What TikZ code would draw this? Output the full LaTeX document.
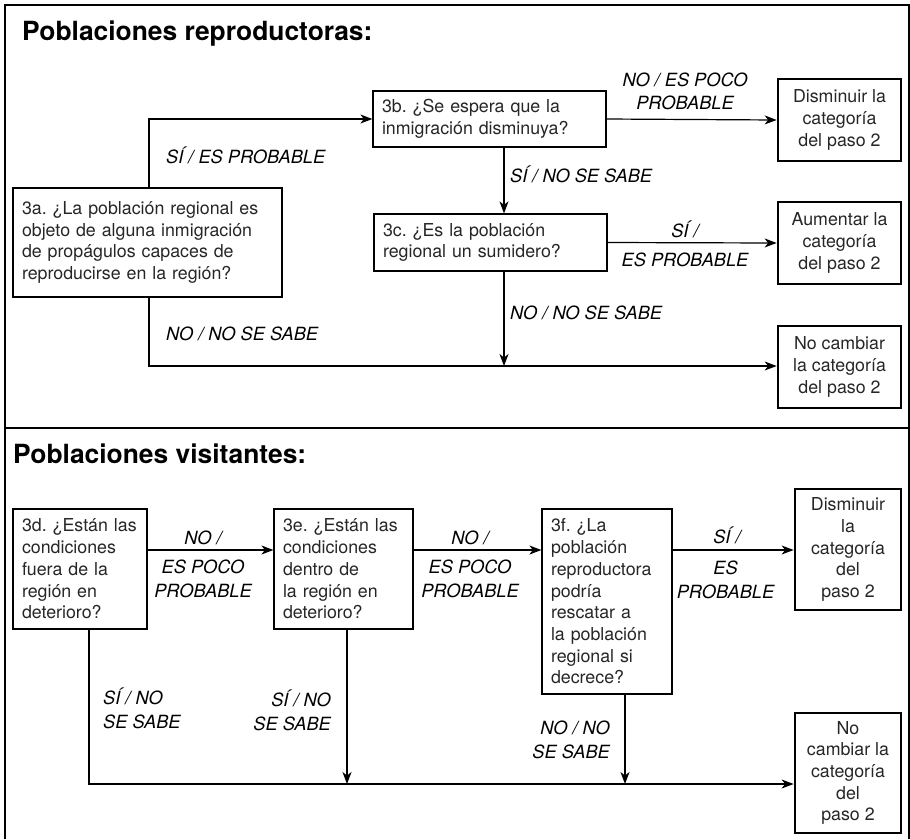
\documentclass[tikz,border=0pt]{standalone}
\usepackage{fontspec}
\setmainfont{TeX Gyre Heros}
\usetikzlibrary{arrows.meta}
\frenchspacing
\tikzset{
  qbox/.style={draw, line width=1.2pt, inner xsep=9pt, inner ysep=0pt, text width=#1, align=left,
    font=\fontsize{17.8}{21.7}\selectfont, text=black!85},
  rbox/.style={draw, line width=2.7pt, inner sep=0pt, align=center,
    font=\fontsize{17.8}{21.7}\selectfont, text=black!85},
  lab/.style={inner sep=0pt, font=\fontsize{18.2}{24}\itshape\selectfont},
  ttl/.style={inner sep=0pt, anchor=base west, font=\fontsize{26.4}{30}\bfseries\selectfont},
  arr/.style={line width=1.2pt, -{Stealth[length=12pt,width=9pt,inset=3.5pt]}},
  frame/.style={line width=2pt}
}
\begin{document}
\begin{tikzpicture}[x=1pt,y=-1pt]
\useasboundingbox (0,0) rectangle (910,839);
% frame
\draw[frame] (5,839) -- (5,5) -- (909,5) -- (909,839);
\draw[line width=1.6pt] (5,428) -- (909,428);
% titles
\node[ttl] (t1) at (22,40) {Poblaciones reproductoras:};
\node[ttl] (t2) at (13,463) {Poblaciones visitantes:};

% ---- top section nodes ----
\node[qbox=251pt, minimum height=109pt] (q3a) at (147.5,242.5)
  {\mbox{3a. ¿La población regional es}\\\mbox{objeto de alguna inmigración}\\\mbox{de propágulos capaces de}\\\mbox{reproducirse en la región?}};
\node[qbox=215pt, minimum height=56pt] (q3b) at (489.5,119)
  {\mbox{3b. ¿Se espera que la}\\\mbox{inmigración disminuya?}};
\node[qbox=215pt, minimum height=57pt] (q3c) at (490.5,242.5)
  {\mbox{3c. ¿Es la población}\\\mbox{regional un sumidero?}};
\node[rbox, minimum width=123pt, minimum height=82pt] (d1) at (839.5,120)
  {Disminuir la\\categoría\\del paso 2};
\node[rbox, minimum width=123pt, minimum height=82pt] (a1) at (839.5,243)
  {Aumentar la\\categoría\\del paso 2};
\node[rbox, minimum width=123pt, minimum height=82pt] (n1) at (839.5,367)
  {No cambiar\\la categoría\\del paso 2};

\coordinate (vb) at (504,0);
\coordinate (va) at (149,0);
\coordinate (hb) at (0,366);

\draw[arr] (q3a.north -| va) |- (q3b.west);
\draw[arr] (q3b.east) -- (d1.west);
\draw[arr] (q3b.south -| vb) -- (q3c.north -| vb);
\draw[arr] (q3c.east) -- (a1.west);
\draw[arr] (q3c.south -| vb) -- (vb |- hb);
\draw[arr] (q3a.south -| va) |- (n1.west |- hb);

\node[lab, anchor=west] (l1) at (166,155) {SÍ / ES PROBABLE};
\node[lab, anchor=west] (l2) at (166,334) {NO / NO SE SABE};
\node[lab, align=center] (l3) at (685,91.5) {NO / ES POCO\\[-1pt]PROBABLE};
\node[lab, anchor=west] (l4) at (510,174) {SÍ / NO SE SABE};
\node[lab] (l5) at (685,229) {SÍ /};
\node[lab] (l6) at (685,260) {ES PROBABLE};
\node[lab, anchor=west] (l7) at (510,313) {NO / NO SE SABE};

% ---- bottom section nodes ----
\node[qbox=116pt, minimum height=120pt] (q3d) at (80,569)
  {\mbox{3d. ¿Están las}\\condiciones\\\mbox{fuera de la}\\\mbox{región en}\\deterioro?};
\node[qbox=121pt, minimum height=120pt] (q3e) at (343.5,569)
  {\mbox{3e. ¿Están las}\\condiciones\\\mbox{dentro de}\\\mbox{la región en}\\deterioro?};
\node[qbox=112pt, minimum height=185pt] (q3f) at (607,601.5)
  {\mbox{3f. ¿La}\\población\\reproductora\\podría\\\mbox{rescatar a}\\\mbox{la población}\\\mbox{regional si}\\decrece?};
\node[rbox, minimum width=106pt, minimum height=121pt] (d2) at (848,549.5)
  {Disminuir\\la\\categoría\\del\\paso 2};
\node[rbox, minimum width=106pt, minimum height=120pt] (n2) at (848,773)
  {No\\cambiar la\\categoría\\del\\paso 2};

\coordinate (hr) at (0,550);
\coordinate (hl) at (0,784);
\coordinate (vd) at (89,0);
\coordinate (ve) at (347,0);
\coordinate (vf) at (625,0);

\draw[arr] (q3d.east |- hr) -- (q3e.west |- hr);
\draw[arr] (q3e.east |- hr) -- (q3f.west |- hr);
\draw[arr] (q3f.east |- hr) -- (d2.west |- hr);
\draw[arr] (q3d.south -| vd) |- (n2.west |- hl);
\draw[arr] (q3e.south -| ve) -- (ve |- hl);
\draw[arr] (q3f.south -| vf) -- (vf |- hl);

\node[lab] (m1) at (203,538) {NO /};
\node[lab, align=center] (m2) at (203,579) {ES POCO\\PROBABLE};
\node[lab] (m3) at (470,538) {NO /};
\node[lab, align=center] (m4) at (470,579) {ES POCO\\PROBABLE};
\node[lab] (m5) at (727,535) {SÍ /};
\node[lab, align=center] (m6) at (725.5,579.5) {ES\\PROBABLE};
\node[lab, anchor=west, align=left] (m7) at (103,708.5) {SÍ / NO\\SE SABE};
\node[lab, anchor=east, align=right] (m8) at (331,710.5) {SÍ / NO\\SE SABE};
\node[lab, anchor=east, align=right] (m9) at (610,739.5) {NO / NO\\SE SABE};
\end{tikzpicture}
\end{document}
